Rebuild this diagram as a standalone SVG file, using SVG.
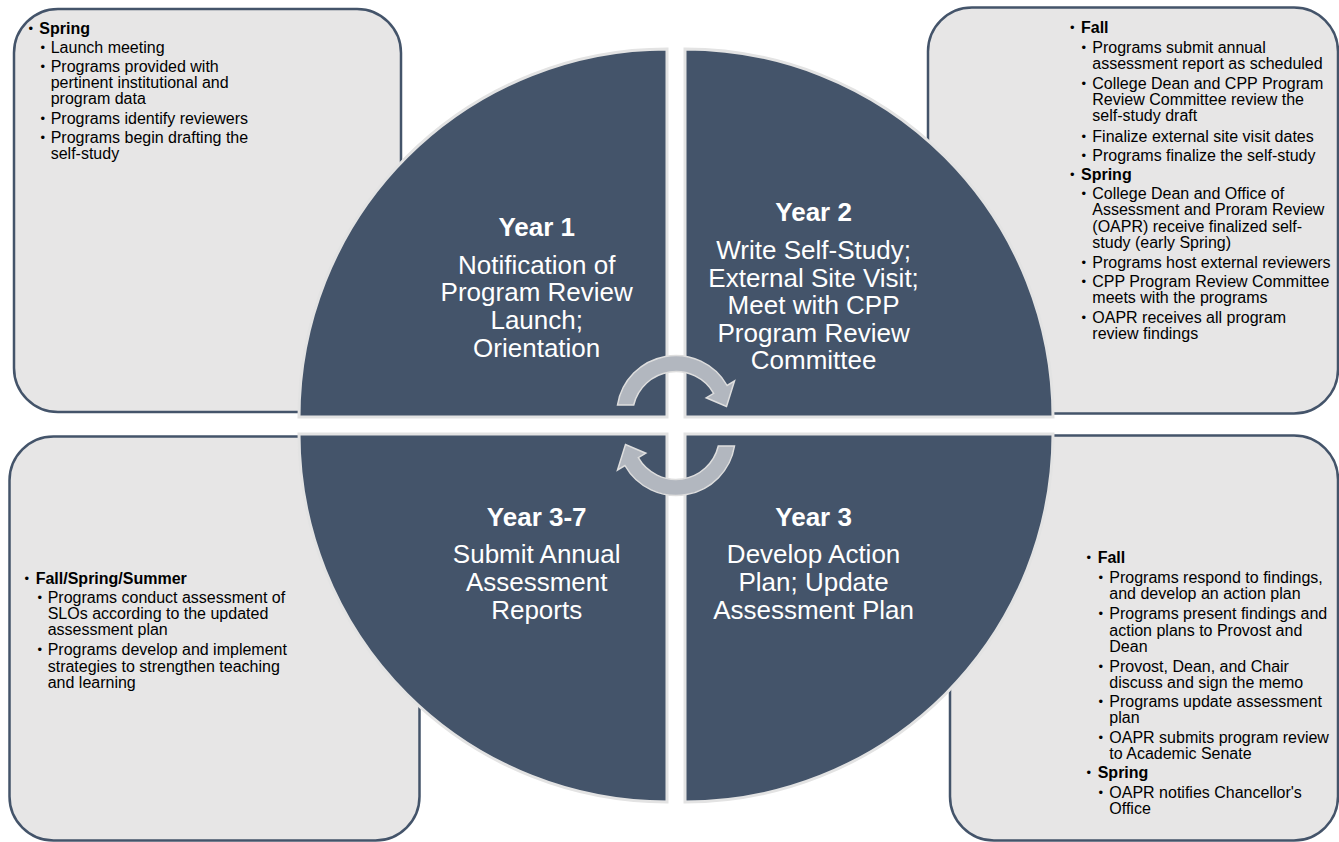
<svg xmlns="http://www.w3.org/2000/svg" width="1339" height="842" viewBox="0 0 1339 842">
<style>
.box{fill:#e7e6e6;stroke:#44546a;stroke-width:2.5}
.quad{fill:#44546a;stroke:#e3e3e3;stroke-width:3}
.bt{font-family:"Liberation Sans",Arial,sans-serif;font-size:16px;fill:#000}
.bu{font-family:"Liberation Sans",Arial,sans-serif;font-size:13px;fill:#000}
.bh{font-weight:bold}
.ct{font-family:"Liberation Sans",Arial,sans-serif;font-size:26px;fill:#fff;text-anchor:middle}
.ch{font-weight:bold}
.arrow{fill:#b2b7bf;stroke:#dedede;stroke-width:1.5}
</style>
<defs>
<path id="carrow" d="M 617.5 405 A 59 59 0 0 1 727.1 385.5 L 734.5 381 L 726.5 406.5 L 706.2 397.8 L 713.7 393.3 A 43.5 43.5 0 0 0 633.7 405 Z"/>
</defs>
<rect width="1339" height="842" fill="#fff"/>

<g id="box-year1">
<rect class="box" x="14" y="9" width="387" height="403" rx="44"/>
<text class="bu" x="28.5" y="33.3">•</text><text class="bt bh" x="39.3" y="34.3">Spring</text>
<text class="bu" x="40.5" y="52.3">•</text><text class="bt" x="50.7" y="53.3">Launch meeting</text>
<text class="bu" x="40.5" y="71.3">•</text><text class="bt" x="50.7" y="72.3">Programs provided with</text>
<text class="bt" x="50.7" y="88.3">pertinent institutional and</text>
<text class="bt" x="50.7" y="104">program data</text>
<text class="bu" x="40.5" y="123">•</text><text class="bt" x="50.7" y="124">Programs identify reviewers</text>
<text class="bu" x="40.5" y="142.3">•</text><text class="bt" x="50.7" y="143.3">Programs begin drafting the</text>
<text class="bt" x="50.7" y="159.3">self-study</text>
</g>

<g id="box-year2">
<rect class="box" x="928" y="7.5" width="410" height="406" rx="44"/>
<text class="bu" x="1070" y="32.3">•</text><text class="bt bh" x="1081" y="33.3">Fall</text>
<text class="bu" x="1081.5" y="51.7">•</text><text class="bt" x="1092.3" y="52.7">Programs submit annual</text>
<text class="bt" x="1092.3" y="69.3">assessment report as scheduled</text>
<text class="bu" x="1081.5" y="87.7">•</text><text class="bt" x="1092.3" y="88.7">College Dean and CPP Program</text>
<text class="bt" x="1092.3" y="105.3">Review Committee review the</text>
<text class="bt" x="1092.3" y="120.7">self-study draft</text>
<text class="bu" x="1081.5" y="140.7">•</text><text class="bt" x="1092.3" y="141.7">Finalize external site visit dates</text>
<text class="bu" x="1081.5" y="159.7">•</text><text class="bt" x="1092.3" y="160.7">Programs finalize the self-study</text>
<text class="bu" x="1070" y="179">•</text><text class="bt bh" x="1081" y="180">Spring</text>
<text class="bu" x="1081.5" y="197.7">•</text><text class="bt" x="1092.3" y="198.7">College Dean and Office of</text>
<text class="bt" x="1092.3" y="215.3">Assessment and Proram Review</text>
<text class="bt" x="1092.3" y="232">(OAPR) receive finalized self-</text>
<text class="bt" x="1092.3" y="248.3">study (early Spring)</text>
<text class="bu" x="1081.5" y="267.3">•</text><text class="bt" x="1092.3" y="268.3">Programs host external reviewers</text>
<text class="bu" x="1081.5" y="286.3">•</text><text class="bt" x="1092.3" y="287.3">CPP Program Review Committee</text>
<text class="bt" x="1092.3" y="303.3">meets with the programs</text>
<text class="bu" x="1081.5" y="322.3">•</text><text class="bt" x="1092.3" y="323.3">OAPR receives all program</text>
<text class="bt" x="1092.3" y="339">review findings</text>
</g>

<g id="box-year37">
<rect class="box" x="9.5" y="436.5" width="410" height="404" rx="44"/>
<text class="bu" x="24.5" y="583">•</text><text class="bt bh" x="35.7" y="584">Fall/Spring/Summer</text>
<text class="bu" x="37.5" y="601.7">•</text><text class="bt" x="47.7" y="602.7">Programs conduct assessment of</text>
<text class="bt" x="47.7" y="619.3">SLOs according to the updated</text>
<text class="bt" x="47.7" y="635">assessment plan</text>
<text class="bu" x="37.5" y="654.3">•</text><text class="bt" x="47.7" y="655.3">Programs develop and implement</text>
<text class="bt" x="47.7" y="671.7">strategies to strengthen teaching</text>
<text class="bt" x="47.7" y="688.3">and learning</text>
</g>

<g id="box-year3">
<rect class="box" x="950" y="435.5" width="388" height="405" rx="44"/>
<text class="bu" x="1086.5" y="562.3">•</text><text class="bt bh" x="1097.7" y="563.3">Fall</text>
<text class="bu" x="1098.5" y="582.3">•</text><text class="bt" x="1109.3" y="583.3">Programs respond to findings,</text>
<text class="bt" x="1109.3" y="599.3">and develop an action plan</text>
<text class="bu" x="1098.5" y="618.3">•</text><text class="bt" x="1109.3" y="619.3">Programs present findings and</text>
<text class="bt" x="1109.3" y="635.7">action plans to Provost and</text>
<text class="bt" x="1109.3" y="651.7">Dean</text>
<text class="bu" x="1098.5" y="670.7">•</text><text class="bt" x="1109.3" y="671.7">Provost, Dean, and Chair</text>
<text class="bt" x="1109.3" y="687.7">discuss and sign the memo</text>
<text class="bu" x="1098.5" y="705.7">•</text><text class="bt" x="1109.3" y="706.7">Programs update assessment</text>
<text class="bt" x="1109.3" y="722.7">plan</text>
<text class="bu" x="1098.5" y="741.7">•</text><text class="bt" x="1109.3" y="742.7">OAPR submits program review</text>
<text class="bt" x="1109.3" y="759">to Academic Senate</text>
<text class="bu" x="1086.5" y="777.3">•</text><text class="bt bh" x="1097.7" y="778.3">Spring</text>
<text class="bu" x="1098.5" y="797.3">•</text><text class="bt" x="1109.3" y="798.3">OAPR notifies Chancellor's</text>
<text class="bt" x="1109.3" y="814.3">Office</text>
</g>

<g id="quad-year1">
<path class="quad" d="M 667 417 L 299 417 A 368 368 0 0 1 667 49 Z"/>
<text class="ct ch" x="536.7" y="235.7">Year 1</text>
<text class="ct" x="536.7" y="273.5">Notification of</text>
<text class="ct" x="536.7" y="301.2">Program Review</text>
<text class="ct" x="536.7" y="328.9">Launch;</text>
<text class="ct" x="536.7" y="356.6">Orientation</text>
</g>

<g id="quad-year2">
<path class="quad" d="M 685 417 L 685 49 A 368 368 0 0 1 1053 417 Z"/>
<text class="ct ch" x="813.6" y="221.3">Year 2</text>
<text class="ct" x="813.6" y="258.9">Write Self-Study;</text>
<text class="ct" x="813.6" y="286.6">External Site Visit;</text>
<text class="ct" x="813.6" y="314.3">Meet with CPP</text>
<text class="ct" x="813.6" y="342">Program Review</text>
<text class="ct" x="813.6" y="369.3">Committee</text>
</g>

<g id="quad-year37">
<path class="quad" d="M 667 434 L 667 802 A 368 368 0 0 1 299 434 Z"/>
<text class="ct ch" x="536.7" y="525.8">Year 3-7</text>
<text class="ct" x="536.7" y="563.4">Submit Annual</text>
<text class="ct" x="536.7" y="591.1">Assessment</text>
<text class="ct" x="536.7" y="618.8">Reports</text>
</g>

<g id="quad-year3">
<path class="quad" d="M 685 434 L 1053 434 A 368 368 0 0 1 685 802 Z"/>
<text class="ct ch" x="813.6" y="525.8">Year 3</text>
<text class="ct" x="813.6" y="563.4">Develop Action</text>
<text class="ct" x="813.6" y="591.1">Plan; Update</text>
<text class="ct" x="813.6" y="618.8">Assessment Plan</text>
</g>

<g id="connectors">
<use href="#carrow" class="arrow"/>
<use href="#carrow" class="arrow" transform="rotate(180 676 425.5)"/>
</g>
</svg>
